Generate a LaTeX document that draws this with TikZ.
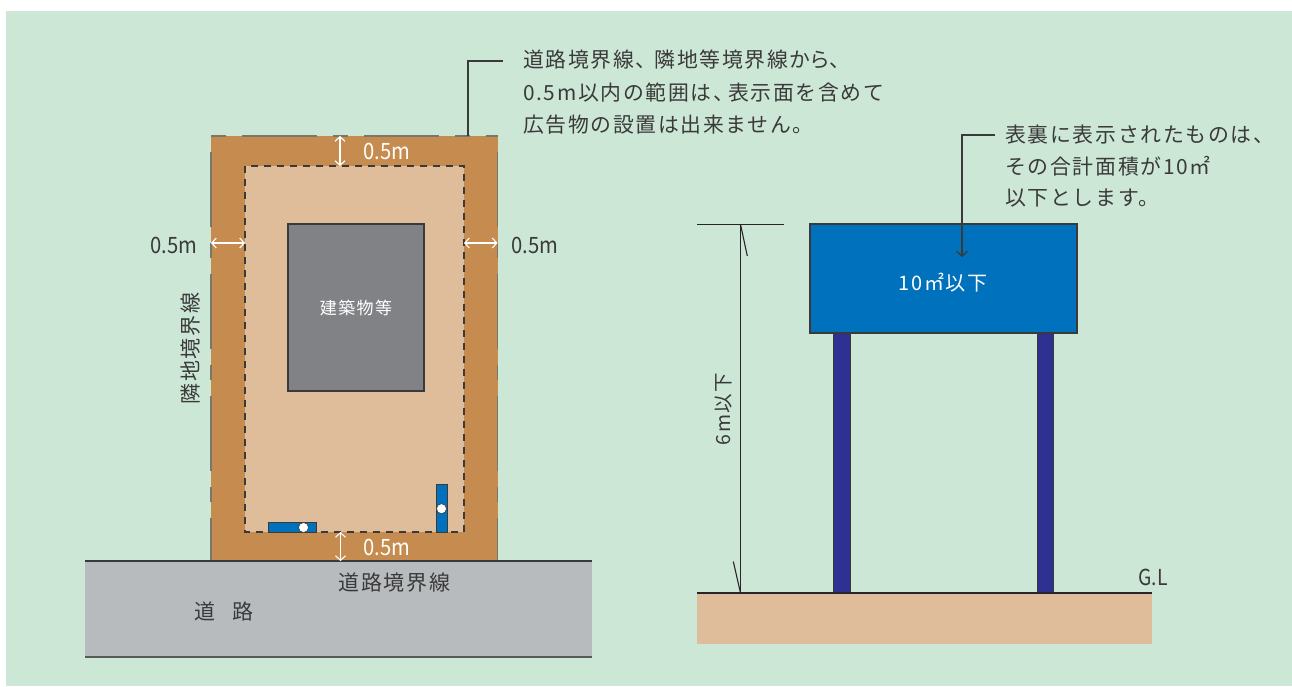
\documentclass[tikz,border=0pt]{standalone}
\usepackage{fontspec}
\usetikzlibrary{arrows.meta}
\setmainfont{Noto Sans CJK JP}
\newfontfamily\jpwide[LetterSpace=8]{Noto Sans CJK JP}
\definecolor{panelgreen}{HTML}{CDE7D7}
\definecolor{setback}{HTML}{C68B4E}
\definecolor{siteplot}{HTML}{DFBD9B}
\definecolor{building}{HTML}{808285}
\definecolor{roadgray}{HTML}{B7BBBE}
\definecolor{signblue}{HTML}{0071BC}
\definecolor{postblue}{HTML}{2E3192}
\definecolor{inkdark}{HTML}{3A3A3A}
\definecolor{edgegray}{HTML}{77776A}
\newcommand{\narrowtxt}[1]{\scalebox{.9}[1]{\fontsize{22.5}{24}\selectfont #1}}
\tikzset{
  lbl/.style={font=\jpwide\fontsize{21}{26}\selectfont,text=inkdark,inner sep=0pt},
  whitelbl/.style={lbl,text=white},
  note/.style={lbl,anchor=north west,align=left},
  dimwhite/.style={draw=white,line width=1.1pt,{Straight Barb[length=4.5pt,width=10pt,line width=1.1pt]}-{Straight Barb[length=4.5pt,width=10pt,line width=1.1pt]}},
  leader/.style={draw=inkdark,line width=1.3pt},
  edgeline/.style={draw=edgegray,line width=1.1pt,dash pattern=on 15pt off 16pt on 75pt off 16pt},
  thin dark/.style={draw=black!85,line width=1.1pt},
  smallsign/.style={fill=signblue,draw=inkdark,line width=1pt},
  hole/.style={circle,fill=white,draw=inkdark,line width=.6pt,minimum size=10pt,inner sep=0pt},
}
\begin{document}
\begin{tikzpicture}[x=1pt,y=-1pt]
\useasboundingbox (0,0) rectangle (1292,686);
\fill[white] (0,0) rectangle (1292,686);
\fill[panelgreen] (6,11) rectangle (1292,686);
% site plan
\fill[setback] (211,136) rectangle (497.5,561);
\draw[edgeline] (211,136) -- (497.5,136);
\draw[edgeline,dash phase=15pt] (211,136) -- (211,561);
\draw[edgeline,dash phase=15pt] (497.5,136) -- (497.5,561);
\fill[siteplot] (245,166) rectangle (464,532);
\draw[draw=inkdark,line width=1.4pt,dash pattern=on 7pt off 6pt] (245,166) rectangle (464,532);
\draw[fill=building,draw=inkdark,line width=1.2pt] (288,224) rectangle (424,391);
\node[whitelbl,font=\jpwide\fontsize{17}{20}\selectfont] (bld) at (356,308) {建築物等};
\draw[smallsign] (268,522) rectangle (316.5,532);
\node[hole] (holeA) at (303.5,527.5) {};
\draw[smallsign] (436.5,484) rectangle (447,532);
\node[hole] (holeB) at (441.5,508.7) {};
% road
\fill[roadgray] (85,561) rectangle (592,657);
\draw[inkdark,line width=1.2pt] (85,561) -- (592,561);
\draw[black!65,line width=1.2pt] (85,657) -- (592,657);
\node[lbl] (roadb) at (394.5,583) {道路境界線};
\node[lbl] (roadA) at (205,611) {道};
\node[lbl] (roadB) at (243,611) {路};
% setback dimensions
\coordinate (t1) at (340,136); \coordinate (t2) at (340,166);
\coordinate (b1) at (340.5,532); \coordinate (b2) at (340.5,561);
\coordinate (l1) at (211,243); \coordinate (l2) at (245,243);
\coordinate (r1) at (464,243); \coordinate (r2) at (497.5,243);
\draw[dimwhite] (t1) -- (t2);
\draw[dimwhite] (b1) -- (b2);
\draw[dimwhite] (l1) -- (l2);
\draw[dimwhite] (r1) -- (r2);
\node[whitelbl,font=\rmfamily] (mt) at (387,151) {\narrowtxt{0.5m}};
\node[whitelbl,font=\rmfamily] (mb) at (387,547) {\narrowtxt{0.5m}};
\node[lbl,font=\rmfamily] (ml) at (174,245) {\narrowtxt{0.5m}};
\node[lbl,font=\rmfamily] (mr) at (535,245) {\narrowtxt{0.5m}};
\node[lbl,rotate=90] (neigh) at (190.5,348.5) {隣地境界線};
% note 1
\node[note,font=\jpwide\fontsize{20.85}{32.5}\selectfont] (note1) at (523,50) {道路境界線、\kern-2pt 隣地等境界線か\kern-1pt ら\kern-1pt 、\\0.5m以内の範囲は、\kern-6pt 表示面を含めて\\広告物の設置は出来ません。};
\coordinate (n1a) at (503,61); \coordinate (n1b) at (468,61); \coordinate (n1c) at (468,136);
\draw[leader] (n1a) -- (n1b) -- (n1c);
% sign elevation
\fill[siteplot] (697,593) rectangle (1152,644);
\draw[fill=postblue,draw=inkdark,line width=1pt] (833.5,333) rectangle (850,593);
\draw[fill=postblue,draw=inkdark,line width=1pt] (1037,333) rectangle (1053,593);
\draw[inkdark,line width=1.3pt,fill=signblue] (810,224) rectangle (1077,333);
\node[whitelbl,font=\jpwide\fontsize{20}{24}\selectfont] (area) at (943,283) {10㎡以下};
\draw[thin dark,line width=1.3pt] (697,593) -- (1152,593);
\node[lbl,font=\rmfamily] (gl) at (1153,577) {\scalebox{.88}[1]{\fontsize{22}{24}\selectfont G.L}};
% height dimension
\coordinate (h0a) at (697,224.3); \coordinate (h0b) at (784,224.3);
\coordinate (h1) at (740.5,224.3); \coordinate (h2) at (740.5,593);
\draw[thin dark] (h0a) -- (h0b);
\draw[thin dark] (h1) -- (h2);
\draw[thin dark] (h1) -- (747.3,256);
\draw[thin dark] (h2) -- (733.3,561.5);
\node[lbl,rotate=90,font=\jpwide\fontsize{19.5}{24}\selectfont] (hlabel) at (724,409) {6m以下};
% note 2
\node[note,font=\jpwide\fontsize{20.9}{31.5}\selectfont] (note2) at (1005,125) {表裏に表示されたものは、\\その合計面積が10㎡\\以下とします。};
\coordinate (n2a) at (995,135); \coordinate (n2b) at (962,135); \coordinate (n2c) at (962,257);
\draw[leader,-{Straight Barb[length=5pt,width=11pt,line width=1.3pt]}] (n2a) -- (n2b) -- (n2c);
\end{tikzpicture}
\end{document}
